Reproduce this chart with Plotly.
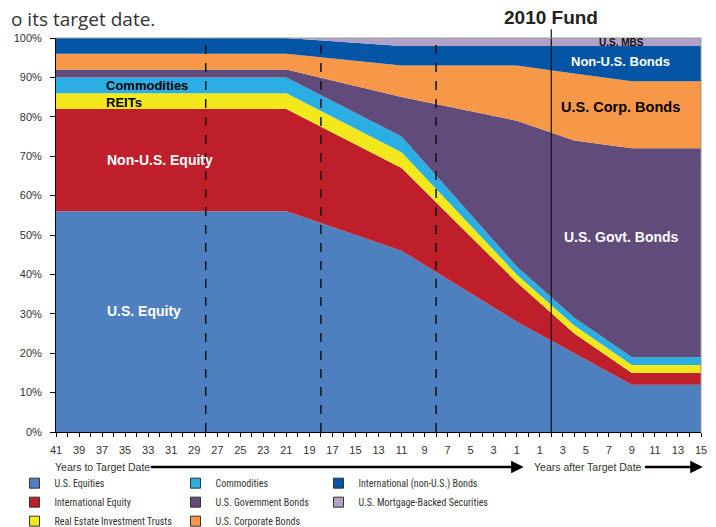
import plotly.graph_objects as go

# Years relative to target date (negative = years before target, positive = years after)
years_rel = [-41, -21, -11, -1, 4, 9, 15]

us_equity = [56, 56, 46, 28, 20, 12, 12]
intl_equity = [26, 26, 21, 10, 5, 3, 3]
reits = [4, 4, 4, 2, 2, 2, 2]
commodities = [4, 4, 4, 2, 2, 2, 2]
us_govt_bonds = [2, 2, 10, 37, 45, 53, 53]
us_corp_bonds = [4, 4, 8, 14, 17, 17, 17]
non_us_bonds = [4, 4, 5, 5, 7, 9, 9]
us_mbs = [0, 0, 2, 2, 2, 2, 2]

series_names = ["U.S. Equities", "International Equity", "Real Estate Investment Trusts",
                "Commodities", "U.S. Government Bonds", "U.S. Corporate Bonds",
                "International (non-U.S.) Bonds", "U.S. Mortgage-Backed Securities"]
series_values = [us_equity, intl_equity, reits, commodities, us_govt_bonds,
                 us_corp_bonds, non_us_bonds, us_mbs]
colors = ["#4E80C0", "#BF1E2B", "#F2E81B", "#2AAEE3", "#604B7A", "#F79748",
          "#0455A5", "#B1A0C8"]

# legend columns
legend_cols = {
    "legend": ["U.S. Equities", "International Equity", "Real Estate Investment Trusts"],
    "legend2": ["Commodities", "U.S. Government Bonds", "U.S. Corporate Bonds"],
    "legend3": ["International (non-U.S.) Bonds", "U.S. Mortgage-Backed Securities"],
}

dashed_years = [-28, -18, -8]
current_year = 2
tick_vals = list(range(-41, 16))
tick_text = [str(abs(v)) if v % 2 != 0 else "" for v in tick_vals]
y_ticks = list(range(0, 101, 10))
y_tick_text = [f"{v}%" for v in y_ticks]

FONT = "Liberation Sans, Arial, sans-serif"
NARROW = "Liberation Sans Narrow, Roboto Condensed, Arial Narrow, Liberation Sans, sans-serif"

fig = go.Figure()
for name, vals, col in zip(series_names, series_values, colors):
    fig.add_trace(go.Scatter(x=years_rel, y=vals, stackgroup="one", mode="none",
                             fillcolor=col, name=name, showlegend=False, hoverinfo="skip"))

for lg, names in legend_cols.items():
    for name in names:
        col = colors[series_names.index(name)]
        fig.add_trace(go.Scatter(x=[None], y=[None], mode="markers", name=name, legend=lg,
                                 marker=dict(symbol="square", size=10, color=col,
                                             line=dict(color="#333333", width=1))))

for yr in dashed_years:
    fig.add_shape(type="line", xref="x", yref="y", x0=yr, x1=yr, y0=0, y1=100,
                  line=dict(color="#111111", width=1.5, dash="dash"))
fig.add_shape(type="line", xref="x", yref="paper", x0=current_year, x1=current_year,
              y0=0, y1=1.022, line=dict(color="#111111", width=1.2))
# frame top/right
fig.add_shape(type="line", xref="paper", yref="paper", x0=0, x1=1, y0=1, y1=1,
              line=dict(color="#999999", width=1))
fig.add_shape(type="line", xref="paper", yref="paper", x0=1, x1=1, y0=0, y1=1,
              line=dict(color="#999999", width=1))

labels = [
    ("U.S. Equity", -36.75, 30.7, "white", 14, "left"),
    ("Non-U.S. Equity", -36.75, 69, "white", 14, "left"),
    ("Commodities", -36.8, 88, "black", 13, "left"),
    ("REITs", -36.8, 83.7, "black", 13, "left"),
    ("U.S. Govt. Bonds", 8.1, 49.5, "white", 14, "center"),
    ("U.S. Corp. Bonds", 8.0, 82.5, "black", 14.5, "center"),
    ("Non-U.S. Bonds", 8.0, 94.1, "white", 13, "center"),
    ("U.S. MBS", 8.1, 98.9, "#111111", 10, "center"),
]
for txt, x, y, c, s, anc in labels:
    fig.add_annotation(x=x, y=y, xref="x", yref="y", text="<b>" + txt + "</b>",
                       showarrow=False, xanchor=anc, yanchor="middle",
                       font=dict(family=FONT, size=s, color=c))

fig.add_annotation(x=current_year, y=1.052, xref="x", yref="paper", text="<b>2010 Fund</b>",
                   showarrow=False, xanchor="center", yanchor="middle",
                   font=dict(family=FONT, size=19, color="#222222"))
fig.add_annotation(x=-0.0729, y=1.049, xref="paper", yref="paper", text="o its target date.",
                   showarrow=False, xanchor="left", yanchor="middle",
                   font=dict(family="Open Sans, sans-serif", size=19, color="#333333"))

# axis captions with arrows
fig.add_annotation(x=-0.0046, y=-0.089, xref="paper", yref="paper", text="Years to Target Date",
                   showarrow=False, xanchor="left", yanchor="middle",
                   font=dict(family=FONT, size=10.5, color="#333333"))
fig.add_annotation(x=-0.4, y=-0.089, xref="x", yref="paper", axref="x", ax=-32.9, ay=0,
                   text="", showarrow=True, arrowhead=2, arrowsize=1, arrowwidth=2.5,
                   arrowcolor="black")
fig.add_annotation(x=0.32, y=-0.089, xref="x", yref="paper", text="Years after Target Date",
                   showarrow=False, xanchor="left", yanchor="middle",
                   font=dict(family=FONT, size=10.5, color="#333333"))
fig.add_annotation(x=15.15, y=-0.089, xref="x", yref="paper", axref="x", ax=10.0, ay=0,
                   text="", showarrow=True, arrowhead=2, arrowsize=1, arrowwidth=2.5,
                   arrowcolor="black")

leg_common = dict(orientation="v", yanchor="top", xanchor="left", bgcolor="rgba(0,0,0,0)",
                  font=dict(family=NARROW, size=10, color="#333333"), tracegroupgap=0,
                  itemwidth=30, traceorder="normal")
# page has an 8px body margin, so margins are offset to place the plot area correctly
fig.update_layout(
    width=716, height=527,
    margin=dict(l=48, r=23, t=30, b=103, autoexpand=False),
    plot_bgcolor="white", paper_bgcolor="white",
    font=dict(family=FONT, size=11, color="#333333"),
    xaxis=dict(range=[-41, 15], tickvals=tick_vals, ticktext=tick_text, ticks="outside",
               ticklen=4, tickcolor="black", showline=True, linecolor="black", linewidth=1,
               showgrid=False, zeroline=False, tickfont=dict(size=11, color="#333333"),
               ticklabelstandoff=4),
    yaxis=dict(range=[0, 100], tickvals=y_ticks, ticktext=y_tick_text, ticks="outside",
               ticklen=5, tickcolor="black", showline=True, linecolor="black", linewidth=1,
               showgrid=False, zeroline=False, tickfont=dict(size=11, color="#333333"),
               ticklabelstandoff=6),
    legend=dict(x=-0.0643, y=-0.0930, **leg_common),
    legend2=dict(x=0.1853, y=-0.0930, **leg_common),
    legend3=dict(x=0.4070, y=-0.0930, **leg_common),
)

fig.write_html("out.html")
